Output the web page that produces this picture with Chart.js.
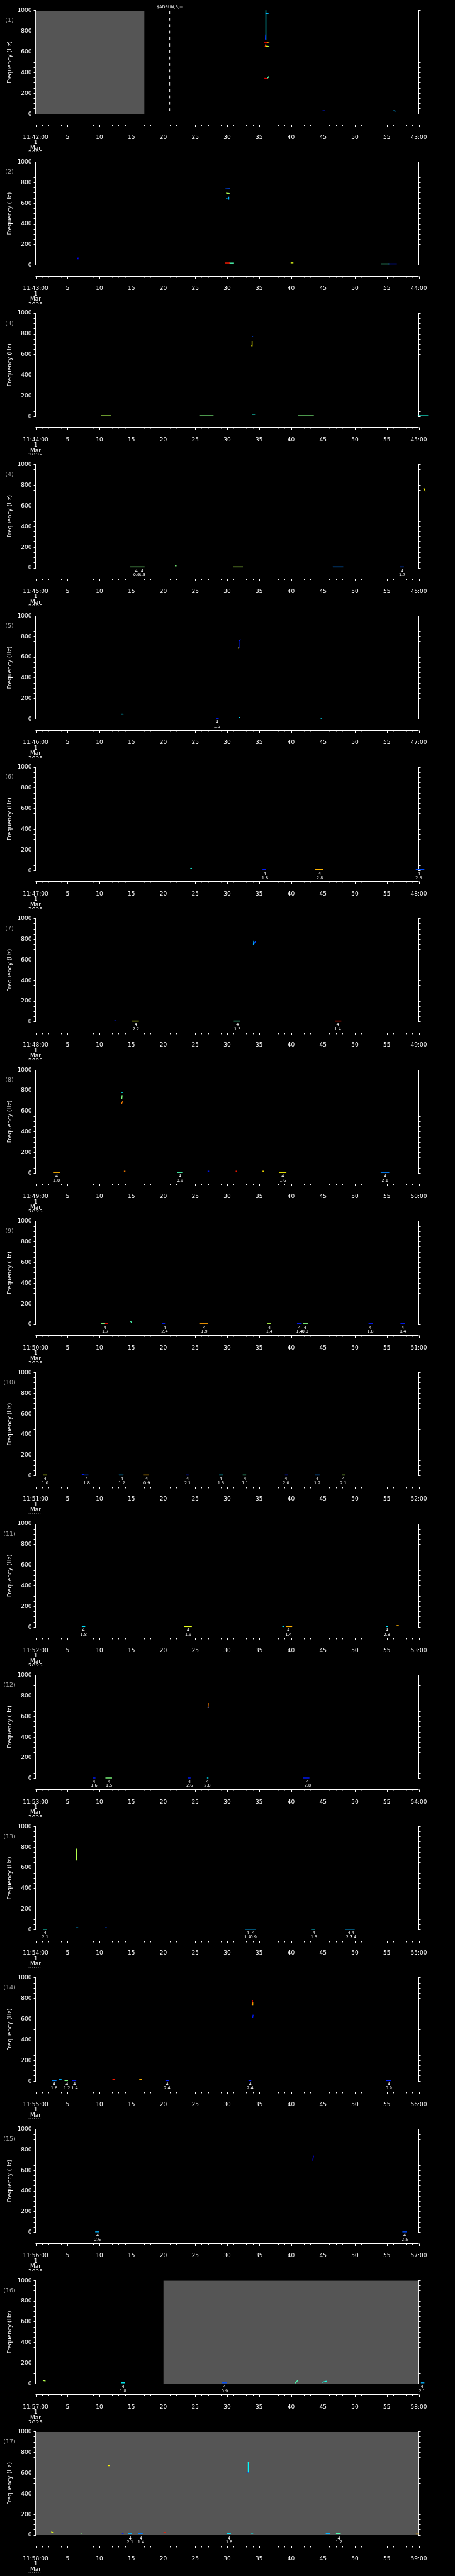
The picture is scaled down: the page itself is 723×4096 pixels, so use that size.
<!DOCTYPE html>
<html>
<head>
<meta charset="utf-8">
<script src="https://cdn.jsdelivr.net/npm/chart.js@4.4.1/dist/chart.umd.min.js"></script>
<style>
html, body { margin: 0; padding: 0; background: #000; }
#wrap { position: relative; width: 723px; height: 4096px; overflow: hidden; background: #000; }
.panel { position: absolute; left: 0; width: 723px; height: 240px; }
</style>
</head>
<body>
<div id="wrap"></div>
<script>
// one panel per minute, 1 Mar 2025
const startLabels = ['11:42:00','11:43:00','11:44:00','11:45:00','11:46:00','11:47:00','11:48:00','11:49:00','11:50:00',
  '11:51:00','11:52:00','11:53:00','11:54:00','11:55:00','11:56:00','11:57:00','11:58:00'];
const endLabels = ['43:00','44:00','45:00','46:00','47:00','48:00','49:00','50:00','51:00',
  '52:00','53:00','54:00','55:00','56:00','57:00','58:00','59:00'];
const dateLines = ['1', 'Mar', '2025'];

// grey (no data) spans, seconds: [panel, from, to]
const noData = [[1, 0, 17.05], [16, 20, 60], [17, 0, 60]];

// marker line in panel 1
const markerTime = 21;
const markerText = '$ADRUN,3,+';

// spectrogram traces: [t0, t1, f0 (Hz), f1 (Hz), level 0..1]
const marks1 = [[36.06,36.06,724,1000,0.37],[36.06,36.5,975,968,0.3],[35.98,36.02,725,765,0.12],
  [35.85,36.25,695,693,0.87],[36.25,36.55,693,697,0.7],[35.95,36.05,655,675,0.8],[36.05,36.4,657,655,0.6],
  [36.4,36.55,655,652,0.37],[35.9,36.3,345,343,0.9],[36.3,36.5,345,360,0.45],[45.0,45.3,30,30,0.15],[56.1,56.3,30,28,0.3]];
const marks2 = [[6.6,6.65,62,70,0.12],[29.8,30.4,740,742,0.2],[29.9,30.3,698,695,0.55],[30.3,30.45,695,690,0.15],
  [29.9,30.25,645,640,0.3],[30.2,30.25,640,660,0.3],[29.7,30.4,23,23,0.85],[30.4,31.0,22,22,0.45],
  [40.0,40.3,24,24,0.6],[54.2,55.3,14,14,0.45],[55.3,56.5,14,14,0.15]];
const marks3 = [[33.98,34.02,776,776,0.2],[33.85,33.9,686,729,0.63],[34.0,34.3,22,22,0.4],[10.3,11.8,8,8,0.55],
  [25.8,27.8,8,8,0.5],[41.2,43.5,8,8,0.5],[59.9,61.4,8,8,0.4]];
const marks4 = [[14.9,17.0,10,10,0.5],[21.9,22.0,20,20,0.5],[31.0,32.4,10,10,0.55],[46.6,48.1,10,10,0.25],
  [57.1,57.6,10,10,0.2],[60.8,61.0,770,745,0.63]];
const marks5 = [[31.8,31.85,691,760,0.15],[31.85,32.05,760,770,0.15],[31.75,31.8,688,695,0.63],[13.5,13.7,49,49,0.35],
  [28.3,28.6,5,5,0.15],[31.9,31.95,18,18,0.35],[44.7,44.8,10,10,0.35]];
const marks6 = [[24.3,24.4,22,22,0.4],[35.6,36.0,10,10,0.15],[43.8,45.0,10,10,0.7],[59.6,60.8,10,10,0.2]];
const marks7 = [[34.1,34.15,750,782,0.3],[34.15,34.4,752,775,0.2],[12.4,12.5,10,10,0.15],[15.1,16.1,8,8,0.6],
  [31.1,32.0,8,8,0.45],[47.0,47.8,8,8,0.85]];
const marks8 = [[13.45,13.6,782,782,0.37],[13.5,13.55,722,751,0.5],[13.5,13.6,677,692,0.75],[2.9,3.8,8,8,0.7],
  [22.2,22.9,8,8,0.45],[38.2,39.2,8,8,0.63],[54.1,55.3,8,8,0.25],[13.9,14.0,20,20,0.75],[27.0,27.1,20,20,0.15],
  [31.4,31.5,20,20,0.85],[35.6,35.7,20,20,0.65]];
const marks9 = [[10.3,10.8,8,8,0.5],[10.8,11.3,8,8,0.87],[19.9,20.2,8,8,0.15],[25.8,26.9,8,8,0.72],[36.3,36.8,8,8,0.55],
  [41.0,41.6,8,8,0.15],[41.9,42.6,8,8,0.5],[52.2,52.7,8,8,0.15],[57.2,57.8,8,8,0.15],[14.9,15.0,30,22,0.45]];
const marks10 = [[1.2,1.7,8,8,0.6],[7.3,7.5,14,12,0.15],[7.7,8.2,8,8,0.2],[13.1,13.7,8,8,0.3],[17.0,17.7,8,8,0.7],
  [23.6,23.9,8,8,0.15],[28.8,29.3,8,8,0.35],[32.5,32.9,8,8,0.45],[39.1,39.4,8,8,0.15],[43.8,44.4,8,8,0.25],
  [48.1,48.4,8,8,0.55]];
const marks11 = [[7.3,7.7,6,6,0.35],[23.3,24.4,6,6,0.6],[38.7,38.8,6,6,0.35],[39.3,40.1,6,6,0.7],[54.9,55.1,6,6,0.35],
  [56.6,56.8,15,15,0.7]];
const marks12 = [[27.0,27.05,686,725,0.75],[27.05,27.1,686,686,0.2],[9.0,9.3,6,6,0.15],[11.0,11.9,6,6,0.5],
  [23.9,24.2,6,6,0.15],[26.9,27.0,6,6,0.35],[41.9,42.8,6,6,0.15]];
const marks13 = [[6.4,6.42,676,781,0.55],[1.2,1.7,5,5,0.4],[32.9,34.4,5,5,0.3],[43.2,43.7,5,5,0.35],[48.5,49.9,5,5,0.3],
  [6.4,6.6,20,20,0.3],[10.95,11.1,20,20,0.2]];
const marks14 = [[33.9,33.95,741,782,0.87],[33.95,34.0,741,760,0.65],[34.0,34.05,620,638,0.15],[2.6,3.2,5,5,0.25],
  [3.7,4.0,15,15,0.3],[4.6,5.0,5,5,0.5],[5.8,6.3,5,5,0.15],[12.1,12.4,15,15,0.85],[16.3,16.6,15,15,0.7],
  [20.4,20.8,5,5,0.15],[33.4,33.7,5,5,0.15],[54.9,55.6,5,5,0.15]];
const marks15 = [[9.4,9.9,6,6,0.3],[43.4,43.5,700,740,0.12],[57.5,58.1,6,6,0.2]];
const marks16 = [[1.2,1.5,32,28,0.55],[13.5,13.9,10,10,0.37],[29.2,29.9,10,10,0.2],[40.7,41.0,10,30,0.45],
  [44.9,45.5,15,25,0.4],[60.4,60.8,10,10,0.3]];
const marks17 = [[2.5,2.8,30,24,0.6],[7.1,7.2,20,20,0.5],[11.4,11.5,673,673,0.63],[13.6,13.7,15,15,0.15],
  [14.6,15.0,15,15,0.3],[16.1,16.7,15,15,0.25],[20.1,20.3,25,25,0.85],[30.0,30.5,15,15,0.35],
  [33.3,33.3,611,705,0.37],[33.3,33.4,705,705,0.75],[33.1,33.3,610,610,0.15],[33.8,34.0,20,20,0.37],
  [45.5,46.0,15,15,0.3],[47.1,47.7,15,15,0.45],[59.6,60.0,10,10,0.7]];

// event notes under each panel: [t, class, value]
const notes1 = [];
const notes2 = [];
const notes3 = [];
const notes4 = [[15.8,'4','0.9'],[16.7,'4','1.3'],[57.4,'4','1.7']];
const notes5 = [[28.4,'4','1.5']];
const notes6 = [[35.9,'4','1.8'],[44.5,'4','2.8'],[60.0,'4','2.8']];
const notes7 = [[15.7,'4','2.2'],[31.6,'4','1.3'],[47.3,'4','1.4']];
const notes8 = [[3.3,'4','1.0'],[22.6,'4','0.9'],[38.7,'4','1.6'],[54.7,'4','2.1']];
const notes9 = [[10.9,'4','1.7'],[20.2,'4','2.4'],[26.4,'4','1.9'],[36.6,'4','1.4'],[41.3,'4','1.4'],[42.2,'4','0.8'],
  [52.4,'4','1.8'],[57.5,'4','1.4']];
const notes10 = [[1.5,'4','1.0'],[8.0,'4','1.8'],[13.5,'4','1.2'],[17.4,'4','0.9'],[23.8,'4','2.1'],[29.0,'4','1.5'],
  [32.8,'4','1.1'],[39.2,'4','2.0'],[44.1,'4','1.2'],[48.2,'4','2.1']];
const notes11 = [[7.5,'4','1.8'],[23.9,'4','1.9'],[39.6,'4','1.4'],[55.0,'4','2.8']];
const notes12 = [[9.15,'4','1.6'],[11.5,'4','1.5'],[24.1,'4','2.6'],[26.9,'4','2.8'],[42.6,'4','2.8']];
const notes13 = [[1.5,'4','2.1'],[33.2,'4','1.7'],[34.1,'4','0.9'],[43.6,'4','1.5'],[49.1,'4','2.3'],[49.7,'4','2.4']];
const notes14 = [[2.9,'4','1.6'],[4.9,'4','1.2'],[6.1,'4','1.4'],[20.6,'4','2.4'],[33.6,'4','2.4'],[55.3,'4','0.9']];
const notes15 = [[9.7,'4','2.6'],[57.8,'4','2.5']];
const notes16 = [[13.7,'4','1.8'],[29.6,'4','0.9'],[60.5,'4','2.1']];
const notes17 = [[14.8,'4','2.1'],[16.5,'4','1.4'],[30.3,'4','1.8'],[47.5,'4','1.2']];

const marks = [marks1,marks2,marks3,marks4,marks5,marks6,marks7,marks8,marks9,marks10,marks11,marks12,marks13,marks14,marks15,marks16,marks17];
const notes = [notes1,notes2,notes3,notes4,notes5,notes6,notes7,notes8,notes9,notes10,notes11,notes12,notes13,notes14,notes15,notes16,notes17];

// layout (reference px scaled by S)
const S = 0.705;
const W = 723;
const PITCH = 341.3 * S;
const TOP0 = 24 * S;
const PLOT_L = 56.5;
const PLOT_R = 665.5;
const PLOT_H = 233 * S;
const CANVAS_H = 240;
const FONT = '"DejaVu Sans", sans-serif';

function jet(v) {
  const c = x => Math.round(255 * Math.max(0, Math.min(1, x)));
  return 'rgb(' + c(1.5 - Math.abs(4 * v - 3)) + ',' + c(1.5 - Math.abs(4 * v - 2)) + ',' + c(1.5 - Math.abs(4 * v - 1)) + ')';
}

const decor = {
  id: 'decor',
  afterDraw(chart, args, o) {
    const ctx = chart.ctx;
    const a = chart.chartArea;
    const x = chart.scales.x;
    ctx.save();
    // detached time axis
    ctx.strokeStyle = '#fff';
    ctx.lineWidth = 1;
    const ay = Math.round(a.bottom + 24 * S) + 0.5;
    ctx.beginPath();
    ctx.moveTo(x.getPixelForValue(0), ay);
    ctx.lineTo(x.getPixelForValue(60), ay);
    x.ticks.forEach(t => {
      const px = Math.round(x.getPixelForValue(t.value)) + 0.5;
      const len = t.value % 5 === 0 ? 5 * S : 2.7 * S;
      ctx.moveTo(px, ay);
      ctx.lineTo(px, ay + len);
    });
    ctx.stroke();

    ctx.textAlign = 'center';
    ctx.textBaseline = 'middle';
    ctx.fillStyle = '#a8a8a8';
    ctx.font = '9.5px ' + FONT;
    ctx.fillText('(' + o.num + ')', 15, a.top + 16);

    ctx.fillStyle = '#fff';
    ctx.font = '6.5px ' + FONT;
    o.notes.forEach(n => {
      const px = x.getPixelForValue(n[0]);
      ctx.fillText(n[1], px, a.bottom + 4.9);
      ctx.fillText(n[2], px, a.bottom + 11.6);
    });
    if (o.marker) {
      ctx.fillText(markerText, x.getPixelForValue(markerTime), a.top - 6);
    }
    ctx.restore();
  }
};

const wrap = document.getElementById('wrap');

marks.forEach((panelMarks, i) => {
  const num = i + 1;
  const top = TOP0 + i * PITCH;
  const cTop = Math.floor(top - 14);
  const padTop = top - cTop;

  const div = document.createElement('div');
  div.className = 'panel';
  div.style.top = cTop + 'px';
  const cv = document.createElement('canvas');
  cv.width = W;
  cv.height = CANVAS_H;
  div.appendChild(cv);
  wrap.appendChild(div);

  const datasets = [];
  noData.filter(s => s[0] === num).forEach(s => {
    datasets.push({
      type: 'line', data: [{x: s[1], y: 1000}, {x: s[2], y: 1000}], yAxisID: 'y',
      fill: 'origin', backgroundColor: '#555555', borderWidth: 0, pointRadius: 0, order: 10
    });
  });
  if (num === 1) {
    datasets.push({
      type: 'line', data: [{x: markerTime, y: 995}, {x: markerTime, y: 0}], yAxisID: 'y',
      borderColor: '#fff', borderWidth: 1, borderDash: [4.7, 5.6], pointRadius: 0, order: 5
    });
  }
  panelMarks.forEach(m => {
    datasets.push({
      type: 'line', data: [{x: m[0], y: m[2]}, {x: m[1], y: m[3]}], yAxisID: 'y',
      borderColor: jet(m[4]), borderWidth: 1.4, borderCapStyle: 'square', pointRadius: 0, clip: false, order: 1
    });
  });

  new Chart(cv, {
    type: 'scatter',
    data: { datasets },
    options: {
      responsive: false,
      animation: false,
      events: [],
      layout: { padding: { top: padTop, left: 0, right: 0, bottom: 0 } },
      plugins: {
        legend: { display: false },
        tooltip: { enabled: false },
        decor: { num: num, notes: notes[i], marker: num === 1 }
      },
      scales: {
        x: {
          type: 'linear', min: 0, max: 60, position: 'bottom',
          grid: { display: false },
          border: { display: false },
          ticks: {
            stepSize: 1, maxTicksLimit: 1000, autoSkip: false, maxRotation: 0,
            color: '#fff', padding: 25,
            font: { family: FONT, size: 9, lineHeight: 0.94 },
            callback: v => v === 0 ? [startLabels[i]].concat(dateLines) : v === 60 ? endLabels[i] : (v % 5 === 0 ? String(v) : '')
          },
          afterFit: s => { s.height = CANVAS_H - padTop - PLOT_H; }
        },
        y: {
          type: 'linear', min: 0, max: 1000, position: 'left',
          grid: { display: true, drawOnChartArea: false, drawTicks: true, tickLength: 3, color: '#fff' },
          border: { display: true, color: '#fff', width: 1 },
          ticks: {
            stepSize: 50, maxTicksLimit: 1000, autoSkip: false, color: '#fff', padding: 3,
            font: { family: FONT, size: 9 },
            callback: v => v % 200 === 0 ? String(v) : ''
          },
          title: { display: true, text: 'Frequency (Hz)', color: '#fff', font: { family: FONT, size: 9 }, padding: { top: 10, bottom: 0 } },
          afterFit: s => { s.width = PLOT_L; }
        },
        y2: {
          type: 'linear', min: 0, max: 1000, position: 'right',
          grid: { display: true, drawOnChartArea: false, drawTicks: true, tickLength: 3, color: '#fff' },
          border: { display: true, color: '#fff', width: 1 },
          ticks: { display: false, stepSize: 50, maxTicksLimit: 1000, autoSkip: false },
          afterFit: s => { s.width = W - PLOT_R; }
        }
      }
    },
    plugins: [decor]
  });
});
</script>
</body>
</html>
